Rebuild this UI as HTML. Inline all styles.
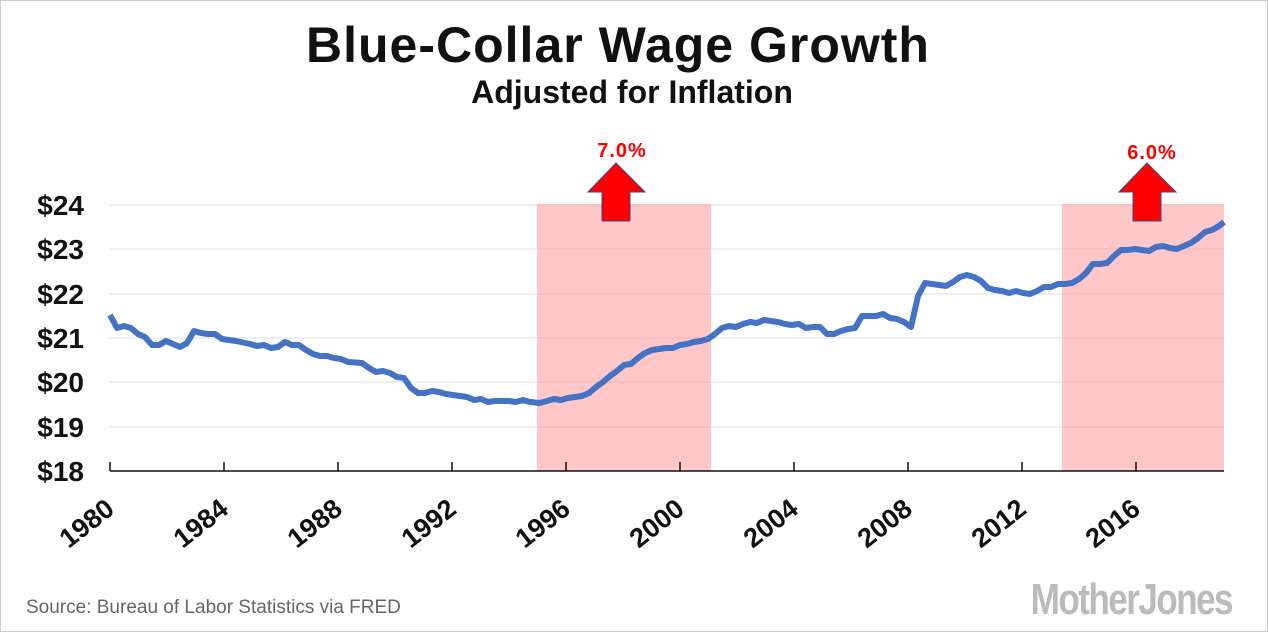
<!DOCTYPE html>
<html><head><meta charset="utf-8"><style>
body{margin:0;background:#fff;}
svg{display:block}
text{font-family:"Liberation Sans",sans-serif}
</style></head><body>
<svg width="1268" height="632" viewBox="0 0 1268 632">
<rect x="0.5" y="0.5" width="1267" height="631" fill="#fff" stroke="#ccc"/>
<text x="618" y="62" text-anchor="middle" font-size="50" font-weight="bold" fill="#111" letter-spacing="1">Blue-Collar Wage Growth</text>
<text x="632" y="103" text-anchor="middle" font-size="32" font-weight="bold" fill="#111">Adjusted for Inflation</text>
<g stroke="#e3e3e3" stroke-width="1.3">
<line x1="110" x2="1224" y1="205" y2="205"/><line x1="110" x2="1224" y1="249" y2="249"/>
<line x1="110" x2="1224" y1="294" y2="294"/><line x1="110" x2="1224" y1="338" y2="338"/>
<line x1="110" x2="1224" y1="382" y2="382"/><line x1="110" x2="1224" y1="427" y2="427"/>
</g>
<rect x="537" y="204" width="174" height="267" fill="#ff9999" opacity="0.55"/>
<rect x="1062" y="204" width="162" height="267" fill="#ff9999" opacity="0.55"/>
<g font-size="28" font-weight="bold" text-anchor="end" fill="#111">
<text x="84" y="215">$24</text><text x="84" y="259">$23</text><text x="84" y="304">$22</text>
<text x="84" y="348">$21</text><text x="84" y="392">$20</text><text x="84" y="437">$19</text><text x="84" y="481">$18</text>
</g>
<g stroke="#111" stroke-width="1.5">
<line x1="110" x2="1224" y1="471" y2="471"/>
<line x1="110" x2="110" y1="462" y2="471"/><line x1="224" x2="224" y1="462" y2="471"/>
<line x1="338" x2="338" y1="462" y2="471"/><line x1="452" x2="452" y1="462" y2="471"/>
<line x1="566" x2="566" y1="462" y2="471"/><line x1="680" x2="680" y1="462" y2="471"/>
<line x1="794" x2="794" y1="462" y2="471"/><line x1="908" x2="908" y1="462" y2="471"/>
<line x1="1022" x2="1022" y1="462" y2="471"/><line x1="1136" x2="1136" y1="462" y2="471"/>
</g>
<g font-size="27" font-weight="bold" text-anchor="end" fill="#111">
<text transform="translate(116,512) rotate(-38)">1980</text>
<text transform="translate(230,512) rotate(-38)">1984</text>
<text transform="translate(344,512) rotate(-38)">1988</text>
<text transform="translate(458,512) rotate(-38)">1992</text>
<text transform="translate(572,512) rotate(-38)">1996</text>
<text transform="translate(686,512) rotate(-38)">2000</text>
<text transform="translate(800,512) rotate(-38)">2004</text>
<text transform="translate(914,512) rotate(-38)">2008</text>
<text transform="translate(1028,512) rotate(-38)">2012</text>
<text transform="translate(1142,512) rotate(-38)">2016</text>
</g>
<polyline fill="none" stroke="#4472c4" stroke-width="6" stroke-linejoin="round" points="110,315 117,328 124,326 131,328 138,334 145,337 152,345 159,345 166,341 173,344 180,347 187,343 194,331 201,333 208,334 215,334 222,339 236,341 250,344 257,346 264,345 271,348 278,347 285,342 292,345 299,345 306,350 313,354 320,356 327,356 334,358 341,359 348,362 362,363 369,368 376,372 383,371 390,373 397,377 404,378 411,388 418,393 425,393 432,391 439,392 446,394 460,396 467,397 474,400 481,399 488,402 495,401 509,401 516,402 523,400 530,402 540,403 547,401 554,399 561,400 568,398 575,397 582,396 589,393 596,387 603,382 610,376 617,371 624,365 631,364 638,358 645,353 652,350 659,349 666,348 673,348 680,345 687,344 694,342 701,341 708,339 715,334 722,328 729,326 736,327 743,324 750,322 757,323 764,320 771,321 778,322 785,324 792,325 799,324 806,328 813,327 820,327 827,334 834,334 841,331 848,329 855,328 862,316 869,316 876,316 883,314 890,318 897,319 904,322 911,327 918,296 925,283 932,284 939,285 946,286 953,282 960,277 967,275 974,277 981,281 988,288 995,290 1002,291 1009,293 1016,291 1023,293 1030,294 1037,291 1044,287 1051,287 1058,284 1065,284 1072,283 1079,279 1086,273 1093,264 1100,264 1107,263 1114,256 1121,250 1128,250 1135,249 1142,250 1149,251 1156,247 1163,246 1170,248 1177,249 1184,246 1191,243 1198,238 1205,232 1212,230 1219,226 1224,222"/>
<g fill="#ff0000" stroke="#3a4a8a" stroke-width="1">
<polygon points="616,163 645,192 630,192 630,221 602,221 602,192 588,192"/>
<polygon points="1147,163 1176,192 1161,192 1161,221 1133,221 1133,192 1119,192"/>
</g>
<g font-size="20" font-weight="bold" fill="#ff0000" text-anchor="middle" letter-spacing="1">
<text x="622" y="157">7.0%</text><text x="1152" y="159">6.0%</text>
</g>
<text x="26" y="613" font-size="19" fill="#666">Source: Bureau of Labor Statistics via FRED</text>
<text x="1232" y="614" text-anchor="end" font-size="44" font-weight="bold" fill="#bbb" transform="translate(1232,0) scale(0.8,1) translate(-1232,0)" letter-spacing="-2">MotherJones</text>
</svg>
</body></html>
